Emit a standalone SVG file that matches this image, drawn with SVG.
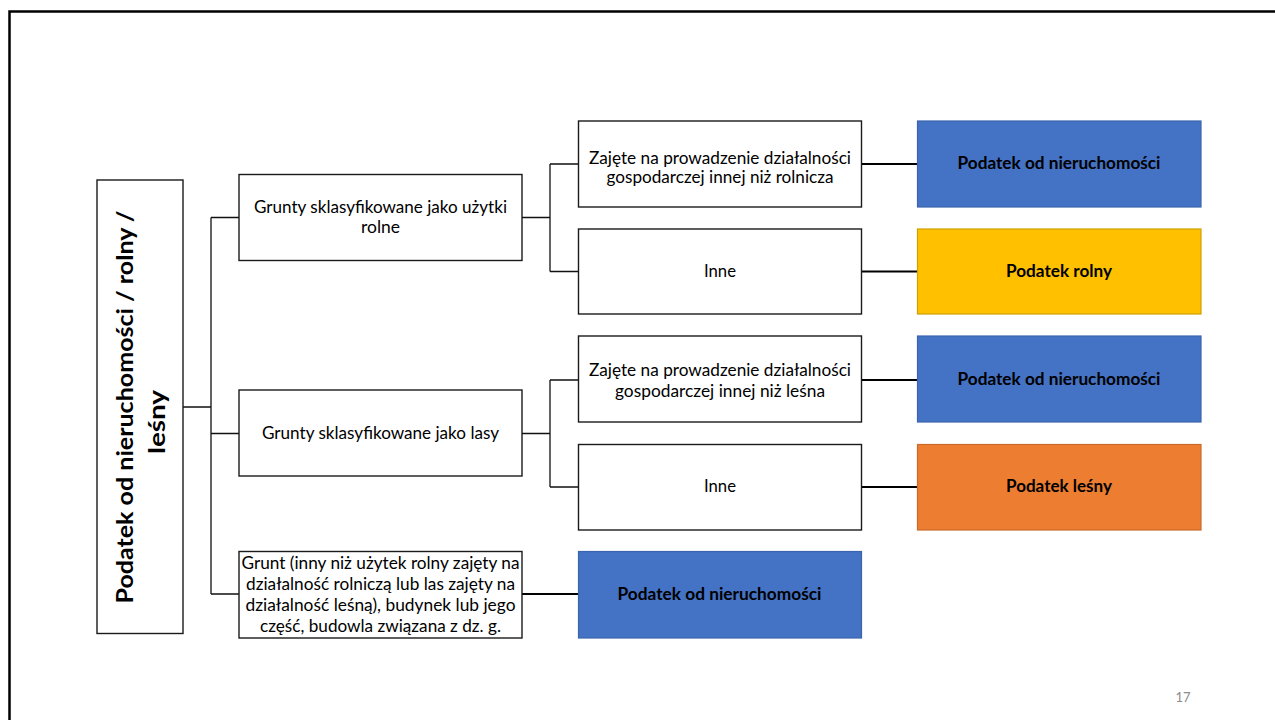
<svg xmlns="http://www.w3.org/2000/svg" width="1275" height="720" viewBox="0 0 1275 720">
<style>
.frame{fill:none;stroke:#000;stroke-width:2.5}
.wbox{fill:#fff;stroke:#1a1a1a;stroke-width:1.4}
.blue{fill:#4472C4;stroke:#3B64AE;stroke-width:1.2}
.yellow{fill:#FFC000;stroke:#CFA000;stroke-width:1.2}
.orange{fill:#ED7D31;stroke:#C9692A;stroke-width:1.2}
.t{font-family:Lato,"Open Sans","Liberation Sans",sans-serif;font-size:16.5px;fill:#000;text-anchor:middle}
.b{font-family:Lato,"Open Sans","Liberation Sans",sans-serif;font-size:16.5px;font-weight:bold;fill:#000;text-anchor:middle}
.m{font-family:Lato,"Open Sans","Liberation Sans",sans-serif;font-size:23px;font-weight:bold;fill:#000;text-anchor:middle}
.c1{fill:none;stroke:#111;stroke-width:1.3}
.c2{fill:none;stroke:#000;stroke-width:2}
.pg{font-family:Lato,"Open Sans","Liberation Sans",sans-serif;font-size:13px;fill:#8c8c8c;text-anchor:middle}
</style>
<rect class="frame" x="9.5" y="11.5" width="1300" height="800"/>
<g id="connectors">
<path class="c1" d="M183 407H211M211 217.5V594M211 217.5H239M211 433.5H239M211 594H239"/>
<path class="c1" d="M522 217.5H550M550 164V271.5M550 164H578.5M550 271.5H578.5"/>
<path class="c1" d="M522 433.5H550M550 380V487M550 380H578.5M550 487H578.5"/>
<path class="c2" d="M862 164H917.5M862 271.5H917.5M862 380H917.5M862 487H917.5M522 594H578.5"/>
</g>
<g id="root">
<rect class="wbox" x="97" y="180" width="86" height="453.5"/>
<text class="m" transform="translate(133 407) rotate(-90)" textLength="393" lengthAdjust="spacingAndGlyphs">Podatek od nieruchomości / rolny /</text>
<text class="m" transform="translate(165 422) rotate(-90)" textLength="64" lengthAdjust="spacingAndGlyphs">leśny</text>
</g>
<g id="n-rolne">
<rect class="wbox" x="239" y="174.5" width="283" height="86"/>
<text class="t" x="380.5" y="213" textLength="253" lengthAdjust="spacingAndGlyphs">Grunty sklasyfikowane jako użytki</text>
<text class="t" x="380.5" y="233" textLength="39" lengthAdjust="spacingAndGlyphs">rolne</text>
</g>
<g id="n-lasy">
<rect class="wbox" x="239" y="390" width="283" height="86"/>
<text class="t" x="380.5" y="439" textLength="237" lengthAdjust="spacingAndGlyphs">Grunty sklasyfikowane jako lasy</text>
</g>
<g id="n-grunt">
<rect class="wbox" x="239" y="551.5" width="283" height="86.5"/>
<text class="t" x="380.5" y="569" textLength="278" lengthAdjust="spacingAndGlyphs">Grunt (inny niż użytek rolny zajęty na</text>
<text class="t" x="380.5" y="590" textLength="269" lengthAdjust="spacingAndGlyphs">działalność rolniczą lub las zajęty na</text>
<text class="t" x="380.5" y="611" textLength="270" lengthAdjust="spacingAndGlyphs">działalność leśną), budynek lub jego</text>
<text class="t" x="380.5" y="632" textLength="241" lengthAdjust="spacingAndGlyphs">część, budowla związana z dz. g.</text>
</g>
<g id="n-zajete-rol">
<rect class="wbox" x="578.5" y="121" width="283" height="86"/>
<text class="t" x="720" y="164" textLength="262" lengthAdjust="spacingAndGlyphs">Zajęte na prowadzenie działalności</text>
<text class="t" x="720" y="183" textLength="227" lengthAdjust="spacingAndGlyphs">gospodarczej innej niż rolnicza</text>
</g>
<g id="n-inne-rol">
<rect class="wbox" x="578.5" y="229" width="283" height="85"/>
<text class="t" x="720" y="277" textLength="32" lengthAdjust="spacingAndGlyphs">Inne</text>
</g>
<g id="n-zajete-les">
<rect class="wbox" x="578.5" y="336" width="283" height="86"/>
<text class="t" x="720" y="376" textLength="262" lengthAdjust="spacingAndGlyphs">Zajęte na prowadzenie działalności</text>
<text class="t" x="720" y="397" textLength="210" lengthAdjust="spacingAndGlyphs">gospodarczej innej niż leśna</text>
</g>
<g id="n-inne-les">
<rect class="wbox" x="578.5" y="444.5" width="283" height="85.5"/>
<text class="t" x="720" y="492" textLength="32" lengthAdjust="spacingAndGlyphs">Inne</text>
</g>
<g id="n-pn1">
<rect class="blue" x="917.5" y="121" width="283.5" height="86"/>
<text class="b" x="1059" y="169" textLength="203" lengthAdjust="spacingAndGlyphs">Podatek od nieruchomości</text>
</g>
<g id="n-rolny">
<rect class="yellow" x="917.5" y="229" width="283.5" height="85"/>
<text class="b" x="1059" y="277" textLength="106" lengthAdjust="spacingAndGlyphs">Podatek rolny</text>
</g>
<g id="n-pn2">
<rect class="blue" x="917.5" y="336" width="283.5" height="86"/>
<text class="b" x="1059" y="385" textLength="203" lengthAdjust="spacingAndGlyphs">Podatek od nieruchomości</text>
</g>
<g id="n-lesny">
<rect class="orange" x="917.5" y="444.5" width="283.5" height="85.5"/>
<text class="b" x="1059" y="492" textLength="106" lengthAdjust="spacingAndGlyphs">Podatek leśny</text>
</g>
<g id="n-pn3">
<rect class="blue" x="578.5" y="551.5" width="283" height="86.5"/>
<text class="b" x="719.5" y="600" textLength="204" lengthAdjust="spacingAndGlyphs">Podatek od nieruchomości</text>
</g>
<text class="pg" x="1183" y="702">17</text>
</svg>
